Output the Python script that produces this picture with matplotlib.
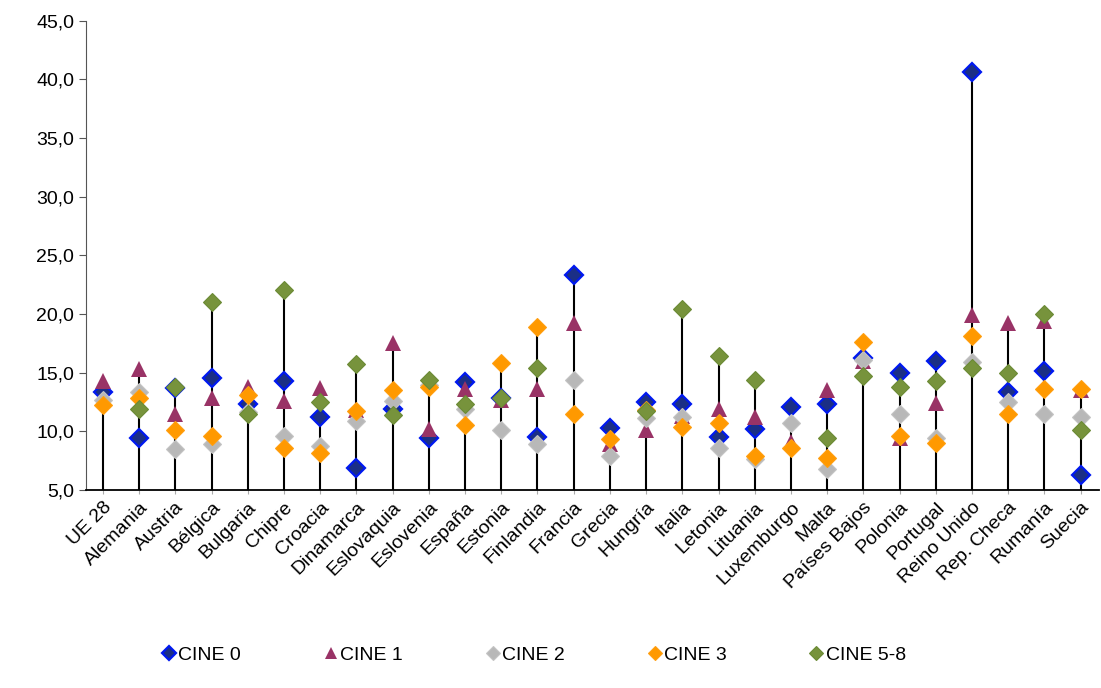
import numpy as np
import matplotlib
matplotlib.use('Agg')
import matplotlib.pyplot as plt
from matplotlib.ticker import FuncFormatter

plt.rcParams['font.family'] = ['Liberation Sans', 'DejaVu Sans']

# países
paises = ['UE 28', 'Alemania', 'Austria', 'Bélgica', 'Bulgaria', 'Chipre', 'Croacia',
          'Dinamarca', 'Eslovaquia', 'Eslovenia', 'España', 'Estonia', 'Finlandia',
          'Francia', 'Grecia', 'Hungría', 'Italia', 'Letonia', 'Lituania', 'Luxemburgo',
          'Malta', 'Países Bajos', 'Polonia', 'Portugal', 'Reino Unido', 'Rep. Checa',
          'Rumanía', 'Suecia']

nan = np.nan
# valores
cine0 = [13.3, 9.4, 13.7, 14.5, 12.3, 14.3, 11.2, 6.9, 11.9, 9.4, 14.2, 12.8, 9.5,
         23.3, 10.3, 12.5, 12.3, 9.5, 10.2, 12.1, 12.3, 16.2, 15.0, 16.0, 40.6, 13.3,
         15.1, 6.3]
cine1 = [14.3, 15.3, 11.5, 12.8, 13.8, 12.6, 13.7, 11.8, 17.5, 10.2, 13.6, 12.7, 13.6,
         19.2, 8.9, 10.1, 11.3, 11.9, 11.2, 9.1, 13.5, 16.0, 9.4, 12.4, 19.9, 19.2,
         19.4, 13.5]
cine2 = [12.7, 13.3, 8.5, 8.9, 11.6, 9.6, 8.7, 10.9, 12.6, 13.9, 11.9, 10.1, 8.9,
         14.4, 7.9, 11.1, 11.2, 8.6, 7.6, 10.7, 6.8, 16.1, 11.5, 9.4, 15.9, 12.5,
         11.5, 11.2]
cine3 = [12.2, 12.8, 10.1, 9.6, 13.1, 8.6, 8.1, 11.7, 13.5, 13.8, 10.5, 15.8, 18.9,
         11.5, 9.3, 11.8, 10.4, 10.7, 7.9, 8.6, 7.7, 17.6, 9.6, 9.0, 18.1, 11.5,
         13.6, 13.6]
cine58 = [nan, 11.9, 13.8, 21.0, 11.5, 22.0, 12.5, 15.7, 11.4, 14.4, 12.3, 12.8, 15.4,
          nan, nan, 11.7, 20.4, 16.4, 14.4, nan, 9.4, 14.7, 13.8, 14.3, 15.4, 15.0,
          20.0, 10.1]

series = [
    ('CINE 0', cine0, dict(marker='D', ms=9.5, mfc='#1b2f86', mec='#0019f0', mew=1.6)),
    ('CINE 1', cine1, dict(marker='^', ms=11, mfc='#993366', mec='#993366', mew=0)),
    ('CINE 2', cine2, dict(marker='D', ms=9.5, mfc='#b8b8b8', mec='#c4c4c4', mew=0.8)),
    ('CINE 3', cine3, dict(marker='D', ms=9, mfc='#ff9900', mec='#ff9f10', mew=0.8)),
    ('CINE 5-8', cine58, dict(marker='D', ms=9.5, mfc='#77933c', mec='#6b8a35', mew=0.8)),
]

x = np.arange(len(paises))
fig = plt.figure(figsize=(11.01, 6.88), dpi=100)
ax = fig.add_axes([0.078, 0.288, 0.92, 0.682])

# líneas verticales hasta el máximo
maximos = np.nanmax(np.array([cine0, cine1, cine2, cine3, cine58]), axis=0)
ax.vlines(x, 5, maximos, color='black', lw=1.5, zorder=1)

for nombre, vals, st in series:
    ax.plot(x, vals, linestyle='none', label=nombre, zorder=3, **st)

ax.set_ylim(5, 45)
ax.set_xlim(-0.47, 27.5)
ax.set_yticks(np.arange(5, 46, 5))
ax.yaxis.set_major_formatter(FuncFormatter(lambda v, p: f'{v:.1f}'.replace('.', ',')))
ax.set_xticks(x)
ax.set_xticklabels(paises, rotation=45, ha='right', rotation_mode='anchor')
ax.tick_params(axis='both', labelsize=14, colors='black')
ax.tick_params(axis='y', length=5, color='#555555')
ax.tick_params(axis='x', length=3, color='#aaaaaa')
ax.spines['top'].set_visible(False)
ax.spines['right'].set_visible(False)
ax.spines['left'].set_color('#555555')
ax.spines['bottom'].set_color('black')
ax.spines['bottom'].set_linewidth(1.3)

ax.legend(loc='center', bbox_to_anchor=(0.443, -0.352), ncol=5, frameon=False,
          fontsize=14, handlelength=0.6, handletextpad=0.2, columnspacing=4.3,
          markerscale=0.75)

fig.savefig('out.png', dpi=100)
